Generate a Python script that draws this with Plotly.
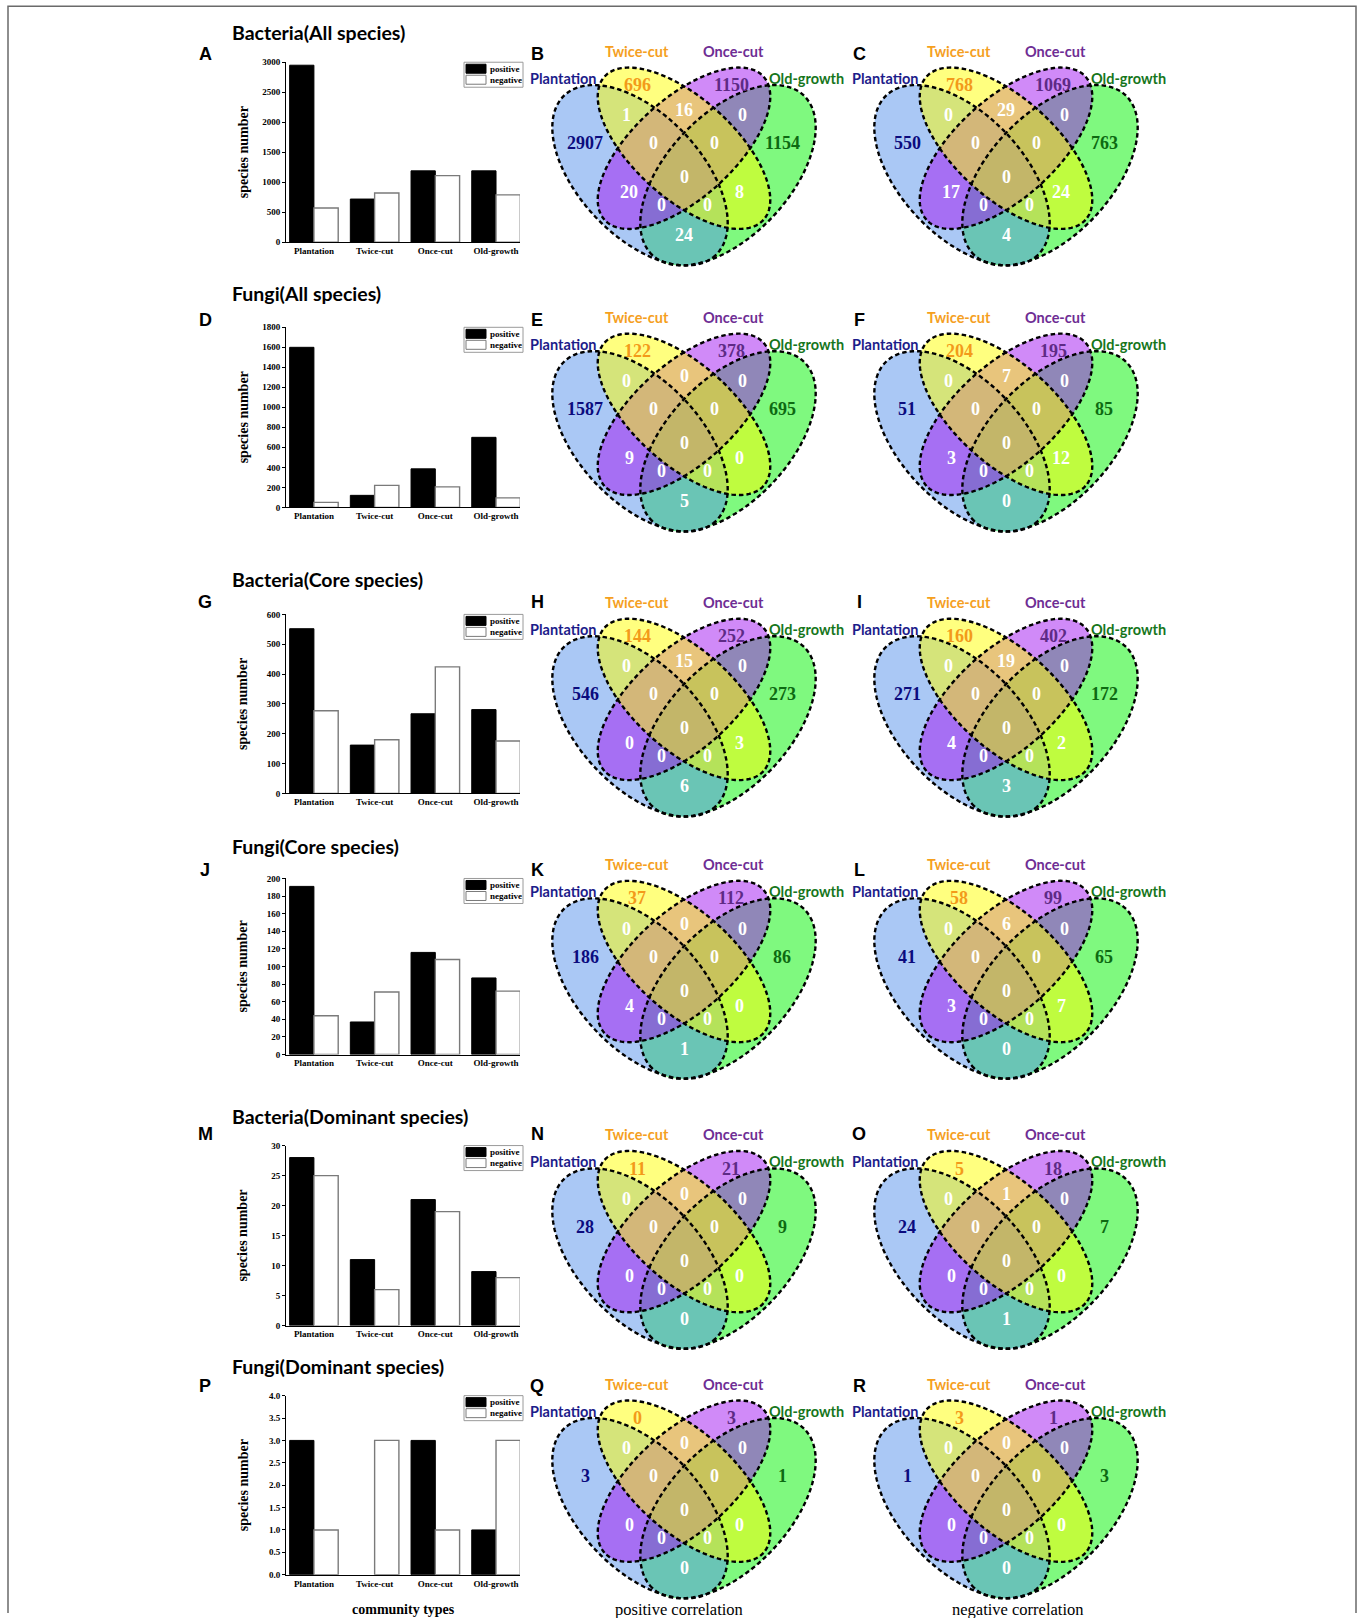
import math
import plotly.graph_objects as go

W, H = 1362, 1618

# ---------------- data ----------------
categories = ["Plantation", "Twice-cut", "Once-cut", "Old-growth"]

bact_all_pos = [2950, 720, 1190, 1190]
bact_all_neg = [570, 820, 1110, 790]
fungi_all_pos = [1600, 120, 385, 700]
fungi_all_neg = [50, 220, 205, 95]
bact_core_pos = [552, 162, 267, 281]
bact_core_neg = [277, 180, 424, 176]
fungi_core_pos = [191, 37, 116, 87]
fungi_core_neg = [44, 71, 108, 72]
bact_dom_pos = [28, 11, 21, 9]
bact_dom_neg = [25, 6, 19, 8]
fungi_dom_pos = [3, 0, 3, 1]
fungi_dom_neg = [1, 3, 1, 3]

row_titles = ["Bacteria(All species)", "Fungi(All species)", "Bacteria(Core species)",
              "Fungi(Core species)", "Bacteria(Dominant species)", "Fungi(Dominant species)"]
y_max = [3000, 1800, 600, 200, 30, 4.0]
y_step = [500, 200, 100, 20, 5, 0.5]

# Venn region order: single sets, then overlaps
region_keys = ["P", "T", "O", "G", "PT", "TO", "OG", "PTO", "TOG", "PTOG", "PO", "POG", "PTG", "TG", "PG"]
venn_B = [2907, 696, 1150, 1154, 1, 16, 0, 0, 0, 0, 20, 0, 0, 8, 24]
venn_C = [550, 768, 1069, 763, 0, 29, 0, 0, 0, 0, 17, 0, 0, 24, 4]
venn_E = [1587, 122, 378, 695, 0, 0, 0, 0, 0, 0, 9, 0, 0, 0, 5]
venn_F = [51, 204, 195, 85, 0, 7, 0, 0, 0, 0, 3, 0, 0, 12, 0]
venn_H = [546, 144, 252, 273, 0, 15, 0, 0, 0, 0, 0, 0, 0, 3, 6]
venn_I = [271, 160, 402, 172, 0, 19, 0, 0, 0, 0, 4, 0, 0, 2, 3]
venn_K = [186, 37, 112, 86, 0, 0, 0, 0, 0, 0, 4, 0, 0, 0, 1]
venn_L = [41, 58, 99, 65, 0, 6, 0, 0, 0, 0, 3, 0, 0, 7, 0]
venn_N = [28, 11, 21, 9, 0, 0, 0, 0, 0, 0, 0, 0, 0, 0, 0]
venn_O = [24, 5, 18, 7, 0, 1, 0, 0, 0, 0, 0, 0, 0, 0, 1]
venn_Q = [3, 0, 3, 1, 0, 0, 0, 0, 0, 0, 0, 0, 0, 0, 0]
venn_R = [1, 3, 1, 3, 0, 0, 0, 0, 0, 0, 0, 0, 0, 0, 0]

bar_rows = [(bact_all_pos, bact_all_neg), (fungi_all_pos, fungi_all_neg),
            (bact_core_pos, bact_core_neg), (fungi_core_pos, fungi_core_neg),
            (bact_dom_pos, bact_dom_neg), (fungi_dom_pos, fungi_dom_neg)]
venn_rows = [(venn_B, venn_C), (venn_E, venn_F), (venn_H, venn_I),
             (venn_K, venn_L), (venn_N, venn_O), (venn_Q, venn_R)]
panel_letters = [("A", "B", "C"), ("D", "E", "F"), ("G", "H", "I"),
                 ("J", "K", "L"), ("M", "N", "O"), ("P", "Q", "R")]

# ---------------- layout geometry (pixels) ----------------
row_yc = [177, 443, 728, 990, 1260, 1509.5]
plot_top = [62, 327, 614, 878, 1145, 1395]
plot_bot = [242, 507, 793, 1054, 1325, 1574]
title_y = [32, 293, 579, 846, 1116, 1366]
letter_y = [54, 320, 602, 870, 1133, 1385]
bar_x0, bar_x1 = 286, 520
venn_xc = [684, 1006]


def Y(y):
    # vertical page position -> canvas coordinate (accounts for page offset)
    return (y - 4.8) / 0.9935


SERIF = "Liberation Serif"
SANS = "Liberation Sans"
LABEL = "Lato"

set_label_colors = {"P": "#1c1c8a", "T": "#f5a01e", "O": "#6e2d94", "G": "#16761c"}
set_number_colors = {"P": "#0b0b7e", "T": "#f39a1a", "O": "#5e2a86", "G": "#0d6a12"}

# region label offsets from the diagram centre
region_offsets = {
    "P": (-99, -34), "T": (-47, -92), "O": (47, -92), "G": (98, -34),
    "PT": (-58, -62), "TO": (0, -67), "OG": (58, -62),
    "PTO": (-31, -34), "TOG": (30, -34), "PTOG": (0, 0),
    "PO": (-55, 15), "POG": (-23, 28), "PTG": (23, 28), "TG": (55, 15), "PG": (0, 58),
}

# ellipses: (set, dx, dy, a, b, angle_deg, fill)
ellipse_defs = [
    ("G", 44, -2, 110, 61, 133.5, "rgba(0,243,0,0.5)"),
    ("P", -44, -2, 110, 61, 46.5, "rgba(85,145,235,0.5)"),
    ("O", 0, -29, 107, 50, 138.0, "rgba(161,21,241,0.5)"),
    ("T", 0, -29, 107, 50, 42.0, "rgba(255,255,0,0.5)"),
]


def ellipse_path(cx, cy, a, b, ang, n=140):
    t = math.radians(ang)
    ct, st = math.cos(t), math.sin(t)
    pts = []
    for k in range(n):
        u = 2 * math.pi * k / n
        ex, ey = a * math.cos(u), b * math.sin(u)
        pts.append((cx + ex * ct - ey * st, Y(cy + ex * st + ey * ct)))
    return "M " + " L ".join(f"{x:.2f},{y:.2f}" for x, y in pts) + " Z"


fig = go.Figure()
shapes = []
annotations = []


def text(x, y, s, size, color="black", family=SERIF, weight="normal", xanchor="center", angle=0):
    annotations.append(dict(x=x, y=Y(y), xref="x7", yref="y7", text=s, showarrow=False,
                            xanchor=xanchor, yanchor="middle", textangle=angle,
                            font=dict(family=family, size=size, color=color, weight=weight)))


def rect(x0, x1, y0, y1, line, fill):
    shapes.append(dict(type="rect", xref="x7", yref="y7", x0=x0, x1=x1, y0=Y(y0), y1=Y(y1),
                       line=line, fillcolor=fill))


layout_axes = {}
for i, ((pos, neg), yc) in enumerate(zip(bar_rows, row_yc)):
    n = i + 1
    xa, ya = f"x{n}", f"y{n}"
    fig.add_trace(go.Bar(x=categories, y=pos, name="positive", xaxis=xa, yaxis=ya,
                         marker=dict(color="black",
                                     line=dict(color="black", width=[1 if v else 0 for v in pos])),
                         showlegend=False))
    fig.add_trace(go.Bar(x=categories, y=neg, name="negative", xaxis=xa, yaxis=ya,
                         marker=dict(color="white",
                                     line=dict(color="#7a7a7a", width=[1.4 if v else 0 for v in neg])),
                         showlegend=False))
    top, bot = plot_top[i], plot_bot[i]
    layout_axes[f"xaxis{n}"] = dict(
        domain=[bar_x0 / W, bar_x1 / W], anchor=ya, range=[-0.46, 3.395],
        showline=True, linecolor="black", linewidth=1, ticks="", showgrid=False,
        zeroline=False, tickfont=dict(family=SERIF, size=9, color="black", weight="bold"),
        fixedrange=True)
    layout_axes[f"yaxis{n}"] = dict(
        domain=[1 - Y(bot) / H, 1 - Y(top) / H], anchor=xa, range=[0, y_max[i]],
        tick0=0, dtick=y_step[i], ticks="outside", ticklen=3, tickwidth=1, tickcolor="black",
        showline=True, linecolor="black", linewidth=1, showgrid=False, zeroline=False,
        tickformat=".1f" if i == 5 else "d",
        tickfont=dict(family=SERIF, size=9, color="black", weight="bold"), fixedrange=True)

    # row title, panel letter, y-axis title
    text(230, title_y[i], row_titles[i], 19.5, family=LABEL, weight="bold", xanchor="left")
    text(205, letter_y[i], panel_letters[i][0], 18, family=SANS, weight="bold")
    text(243, (top + bot) / 2, "species number", 14, family=SERIF, weight="bold", angle=-90)

    # legend box
    rect(464, 523, top, top + 25, dict(color="#9a9a9a", width=1), "white")
    rect(466, 486, top + 2, top + 11, dict(color="black", width=1), "black")
    rect(466, 486, top + 13, top + 22, dict(color="#7a7a7a", width=1), "white")
    text(488, top + 6.5, "positive", 9, family=SERIF, weight="bold", xanchor="left")
    text(488, top + 17.5, "negative", 9, family=SERIF, weight="bold", xanchor="left")

    # Venn diagrams
    for j, (counts, xc) in enumerate(zip(venn_rows[i], venn_xc)):
        for key, dx, dy, a, b, ang, fill in ellipse_defs:
            shapes.append(dict(type="path", xref="x7", yref="y7",
                               path=ellipse_path(xc + dx, yc + dy, a, b, ang),
                               fillcolor=fill, line=dict(width=0)))
        for key, dx, dy, a, b, ang, fill in ellipse_defs:
            shapes.append(dict(type="path", xref="x7", yref="y7",
                               path=ellipse_path(xc + dx, yc + dy, a, b, ang),
                               fillcolor="rgba(0,0,0,0)",
                               line=dict(color="black", width=2.4, dash="4.5px,3px")))
        for key, val in zip(region_keys, counts):
            ox, oy = region_offsets[key]
            col = set_number_colors.get(key, "white")
            text(xc + ox, yc + oy, str(val), 18, color=col, family=SERIF, weight="bold")
        text(xc - 47, yc - 126, "Twice-cut", 14.5, color=set_label_colors["T"], family=LABEL, weight="bold")
        text(xc + 49, yc - 126, "Once-cut", 14.5, color=set_label_colors["O"], family=LABEL, weight="bold")
        text(xc - 121, yc - 99, "Plantation", 14.5, color=set_label_colors["P"], family=LABEL, weight="bold")
        text(xc + 122, yc - 99, "Old-growth", 14.5, color=set_label_colors["G"], family=LABEL, weight="bold")
        text(xc - 147, letter_y[i], panel_letters[i][j + 1], 18, family=SANS, weight="bold")

# bottom captions
text(403, 1609, "community types", 14, family=SERIF, weight="bold")
text(679, 1609, "positive correlation", 16.5, family=SERIF)
text(1017, 1609, "negative correlation", 16.5, family=SERIF)

# page frame
shapes.append(dict(type="path", xref="x7", yref="y7",
                   path=f"M 8,{Y(H):.2f} L 8,{Y(6):.2f} L 1356,{Y(6):.2f} L 1356,{Y(H):.2f}",
                   line=dict(color="#6a6a6a", width=1.5)))

# full-page pixel canvas for shapes and text
fig.add_trace(go.Scatter(x=[], y=[], xaxis="x7", yaxis="y7", showlegend=False))
layout_axes["xaxis7"] = dict(domain=[0, 1], range=[0, W], visible=False, anchor="y7", fixedrange=True)
layout_axes["yaxis7"] = dict(domain=[0, 1], range=[H, 0], visible=False, anchor="x7", fixedrange=True)

fig.update_layout(
    width=W, height=H, margin=dict(l=0, r=0, t=0, b=0),
    paper_bgcolor="white", plot_bgcolor="rgba(0,0,0,0)",
    barmode="group", bargap=0.2, bargroupgap=0,
    showlegend=False, shapes=shapes, annotations=annotations,
    **layout_axes,
)

fig.write_html("out.html")
